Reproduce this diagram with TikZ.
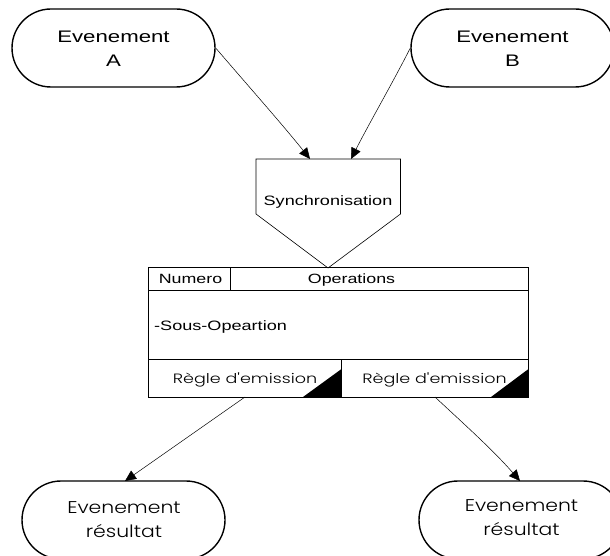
\documentclass[tikz,border=0pt]{standalone}
\usepackage{fontspec}
\setmainfont{Liberation Sans}
\newfontfamily\widefont[FakeStretch=1.33]{Liberation Sans}
\newfontfamily\geofont[FakeStretch=1.2]{Poppins Light}
\newfontfamily\geowide[FakeStretch=1.3]{Poppins Light}
\usetikzlibrary{shapes.misc,arrows.meta}
\tikzset{
  event/.style={rounded rectangle,draw=black,line width=1.4pt,minimum width=203pt,minimum height=78pt,inner sep=0pt,align=center,fill=white},
  lbl/.style={inner sep=0pt,align=center,text=black},
  line1/.style={lbl,anchor=base},
  cell/.style={draw=black,line width=0.6pt,fill=white},
  conn/.style={draw=black,line width=0.5pt,-{Triangle[length=11pt,width=10pt]}}
}
\begin{document}
\begin{tikzpicture}[x=1pt,y=-1pt]
\useasboundingbox (0,0) rectangle (610,556);
\fill[white] (0,0) rectangle (610,556);
% events
\node[event] (evA) at (113.5,48) {};
\node[event] (evB) at (512.5,48) {};
\node[event] (evR1) at (123.5,520) {};
\node[event] (evR2) at (520.5,520) {};
\node[lbl,font=\widefont\fontsize{16.7}{24}\selectfont] (tA) at (113.5,48.5) {Evenement\\A};
\node[lbl,font=\widefont\fontsize{16.7}{24}\selectfont] (tB) at (512.5,48.5) {Evenement\\B};
\node[lbl,font=\geofont\fontsize{17}{24}\selectfont] (tR1) at (124,520) {Evenement\\résultat};
\node[lbl,font=\geofont\fontsize{17}{24}\selectfont] (tR2) at (521.5,518) {Evenement\\résultat};
% synchronisation
\coordinate (sTL) at (256,159);
\coordinate (sTR) at (400.5,159);
\coordinate (sRs) at (400.5,214);
\coordinate (sTip) at (328,268);
\coordinate (sLs) at (256,214);
\coordinate (inA) at (310,159);
\coordinate (inB) at (351,159);
\draw[cell] (sTL) -- (sTR) -- (sRs) -- (sTip) -- (sLs) -- cycle;
\node[line1,font=\widefont\fontsize{13.6}{16}\selectfont] (tS) at (328,205.5) {Synchronisation};
% table
\coordinate (t1) at (148.5,267);
\coordinate (t2) at (528.5,267);
\coordinate (t3) at (528.5,397);
\coordinate (t4) at (148.5,397);
\draw[cell,fill=none] (t1) -- (t2) -- (t3) -- (t4) -- cycle;
\draw[cell] (148.5,290) -- (528.5,290);
\draw[cell] (148.5,359) -- (528.5,359);
\draw[cell] (230,267) -- (230,290);
\draw[cell] (341.5,359) -- (341.5,397);
\fill[black] (341.5,369) -- (341.5,397) -- (303,397) -- cycle;
\fill[black] (528.5,369) -- (528.5,397) -- (491,397) -- cycle;
\node[line1,font=\widefont\fontsize{13.4}{16}\selectfont] (tN) at (190.5,283) {Numero};
\node[line1,font=\widefont\fontsize{13.4}{16}\selectfont] (tO) at (351.5,283) {Operations};
\node[lbl,anchor=base west,font=\widefont\fontsize{13.6}{16}\selectfont] (tSo) at (154,330) {-Sous-Opeartion};
\node[line1,font=\geowide\fontsize{13.5}{16}\selectfont] (tR) at (245,383) {Règle d'emission};
\node[line1,font=\geowide\fontsize{13.5}{16}\selectfont] (tQ) at (434.5,383) {Règle d'emission};
% out anchors
\coordinate (o1) at (245,397);
\coordinate (o2) at (435,397);
\coordinate (i1) at (125,481);
\coordinate (i2) at (520,481);
% connectors
\draw[conn] (evA.east) .. controls (250,88) and (282,124) .. (inA);
\draw[conn] (evB.west) .. controls (392,84) and (371,120) .. (inB);
\draw[conn] (o1) .. controls (205,425) and (165,453) .. (i1);
\draw[conn] (o2) .. controls (465,425) and (493,450) .. (i2);
\end{tikzpicture}
\end{document}
